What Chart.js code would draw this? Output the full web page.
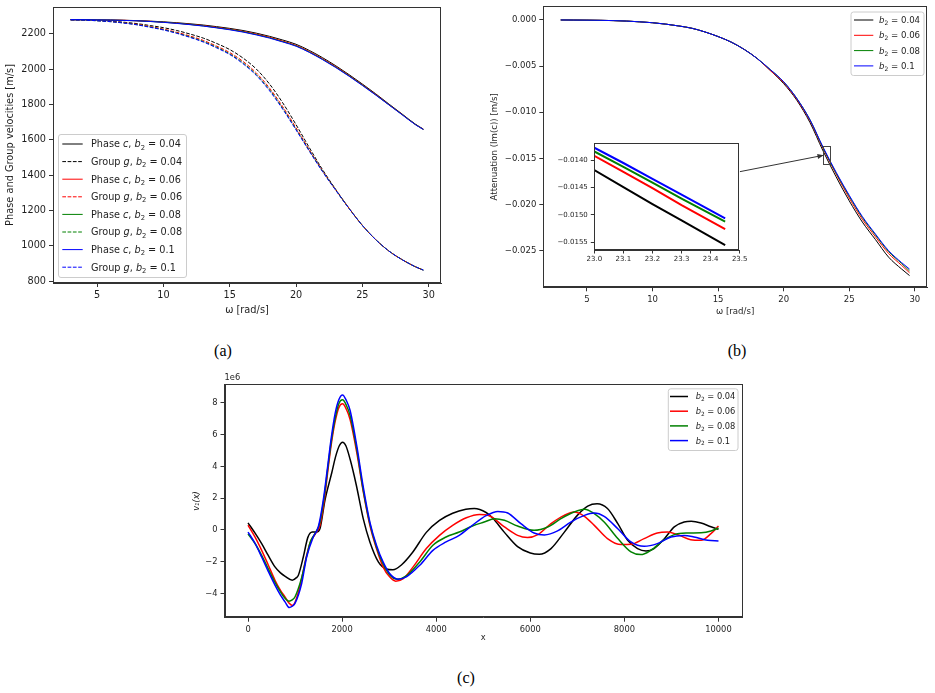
<!DOCTYPE html>
<html><head><meta charset="utf-8">
<script src="https://cdn.jsdelivr.net/npm/chart.js@4.4.1/dist/chart.umd.min.js"></script>
<style>
html,body{margin:0;padding:0;background:#fff;}
#wrap{position:relative;width:935px;height:693px;overflow:hidden;background:#fff;}
canvas{position:absolute;}
.cap{position:absolute;font-family:"Liberation Serif","DejaVu Serif",serif;font-size:16px;color:#000;transform:translate(-50%,-50%);white-space:nowrap;}
</style></head><body>
<div id="wrap">
<canvas id="ca" width="460" height="330" style="left:0px;top:0px"></canvas>
<canvas id="cb" width="455" height="330" style="left:480px;top:0px"></canvas>
<canvas id="ci" width="210" height="130" style="left:546px;top:138px"></canvas>
<canvas id="cc" width="580" height="285" style="left:180px;top:365px"></canvas>
<div class="cap" style="left:223px;top:351px">(a)</div>
<div class="cap" style="left:737px;top:351px">(b)</div>
<div class="cap" style="left:466px;top:678px">(c)</div>
</div>
<script>
// ---------------- DATA ----------------
const b2Values = ['0.04', '0.06', '0.08', '0.1'];

// tick values
const omegaTicks = [5, 10, 15, 20, 25, 30];
const velTicks = [800, 1000, 1200, 1400, 1600, 1800, 2000, 2200];
const attTicks = [-0.025, -0.020, -0.015, -0.010, -0.005, 0];
const insetOmegaTicks = [23.0, 23.1, 23.2, 23.3, 23.4, 23.5];
const insetAttTicks = [-0.0155, -0.0150, -0.0145, -0.0140];
const xTicksC = [0, 2000, 4000, 6000, 8000, 10000];
const vTicksC = [-4, -2, 0, 2, 4, 6, 8];

// (a) phase and group velocities vs omega [rad/s]
const omega = [3,4,5,6,7,8,9,10,11,12,13,14,15,16,17,18,19,20,21,22,23,24,25,26,27,28,29,29.6];
const phaseC004 = [2279,2279,2278,2277,2276,2274,2271,2267,2262,2256,2249,2240,2230,2218,2203,2185,2164,2140,2105,2064,2018,1968,1915,1860,1802,1745,1688,1660];
const phaseC006 = [2279,2279,2278,2277,2276,2273,2270,2265,2260,2253,2246,2236,2226,2213,2198,2180,2158,2134,2099,2058,2013,1963,1911,1856,1799,1743,1686,1659];
const phaseC008 = [2279,2279,2278,2277,2275,2273,2269,2265,2259,2252,2244,2234,2224,2211,2195,2177,2155,2131,2096,2055,2010,1961,1909,1854,1798,1742,1686,1658];
const phaseC010 = [2279,2279,2278,2277,2275,2273,2269,2264,2258,2251,2243,2233,2222,2209,2193,2175,2153,2129,2094,2053,2008,1959,1907,1853,1797,1741,1685,1658];
const groupG004 = [2279,2278,2275,2271,2265,2257,2246,2234,2218,2198,2175,2145,2110,2062,2000,1915,1808,1685,1555,1430,1318,1212,1115,1035,970,921,881,862];
const groupG006 = [2279,2277,2274,2269,2262,2253,2240,2226,2208,2187,2162,2130,2093,2043,1978,1892,1786,1667,1543,1423,1315,1211,1115,1035,970,921,881,862];
const groupG008 = [2279,2277,2273,2268,2261,2251,2238,2223,2204,2182,2156,2124,2086,2035,1969,1883,1777,1659,1538,1421,1314,1210,1115,1035,970,921,881,862];
const groupG010 = [2279,2277,2273,2268,2260,2250,2236,2221,2202,2179,2153,2120,2082,2030,1964,1877,1772,1655,1535,1419,1313,1210,1115,1035,970,921,881,862];

// (b) attenuation Im(c) vs omega
const att004 = [0,-0.00001,-0.00002,-0.00004,-0.00007,-0.00012,-0.0002,-0.0003,-0.00045,-0.00065,-0.0009,-0.0013,-0.0018,-0.0024,-0.0032,-0.0042,-0.0055,-0.0069,-0.0087,-0.0111,-0.01418,-0.0170,-0.0196,-0.0219,-0.0238,-0.0257,-0.0270,-0.0277];
const att006 = [0,-0.00001,-0.00002,-0.00004,-0.00007,-0.00012,-0.0002,-0.0003,-0.00045,-0.00065,-0.0009,-0.0013,-0.0018,-0.0024,-0.0032,-0.0042,-0.0055,-0.0068,-0.0086,-0.0109,-0.01392,-0.0167,-0.0193,-0.0216,-0.0235,-0.0253,-0.0266,-0.0274];
const att008 = [0,-0.00001,-0.00002,-0.00004,-0.00007,-0.00012,-0.0002,-0.0003,-0.00045,-0.00065,-0.0009,-0.0013,-0.0018,-0.0024,-0.0032,-0.0042,-0.0054,-0.0067,-0.0085,-0.0108,-0.01384,-0.0166,-0.0191,-0.0214,-0.0233,-0.0251,-0.0264,-0.0272];
const att010 = [0,-0.00001,-0.00002,-0.00004,-0.00007,-0.00012,-0.0002,-0.0003,-0.00045,-0.00065,-0.0009,-0.0013,-0.0018,-0.0024,-0.0032,-0.0042,-0.0054,-0.0067,-0.0085,-0.0108,-0.01377,-0.0165,-0.0190,-0.0213,-0.0232,-0.0250,-0.0263,-0.0270];

// (b) inset zoom
const insetOmega = [23.0, 23.1, 23.2, 23.3, 23.45];
const insetAtt004 = [-0.01418,-0.01449,-0.01480,-0.01510,-0.01555];
const insetAtt006 = [-0.01392,-0.01421,-0.01451,-0.01482,-0.01526];
const insetAtt008 = [-0.01384,-0.01412,-0.01441,-0.01470,-0.01512];
const insetAtt010 = [-0.01377,-0.01405,-0.01434,-0.01463,-0.01506];

// (c) v1(x), values in units of 1e6
const xV004 = [0,150,290,430,573,690,790,940,1030,1070,1175,1270,1366,1458,1530,1635,1780,1860,1940,2010,2080,2170,2300,2450,2590,2770,2940,3080,3260,3500,3790,4070,4350,4630,4810,5060,5200,5450,5730,6000,6190,6440,6720,7000,7220,7420,7640,7860,8070,8280,8460,8630,8850,9060,9270,9420,9630,9840,10000];
const v004 = [0.45,-0.2,-0.86,-1.6,-2.32,-2.7,-2.92,-3.16,-3.0,-2.85,-1.7,-0.48,-0.13,-0.13,0.09,1.87,3.6,4.6,5.3,5.53,5.3,4.45,2.85,0.7,-0.75,-2.0,-2.45,-2.5,-2.2,-1.4,-0.15,0.6,1.05,1.3,1.35,1.1,0.75,-0.15,-1.05,-1.45,-1.53,-1.17,-0.15,0.92,1.5,1.65,1.35,0.4,-0.65,-1.17,-1.32,-1.17,-0.55,0.2,0.5,0.55,0.44,0.2,0.04];
const xV006 = [0,150,290,430,573,690,786,870,941,1000,1118,1230,1320,1440,1530,1621,1700,1770,1850,1930,2010,2090,2170,2310,2450,2590,2730,2870,3010,3140,3300,3510,3790,4070,4350,4640,4920,5130,5450,5730,5940,6160,6440,6720,6930,7150,7360,7640,7930,8140,8420,8700,8920,9130,9410,9630,9840,10000];
const v006 = [0.3,-0.45,-1.28,-2.2,-3.16,-3.8,-4.21,-4.6,-4.75,-4.55,-3.37,-1.8,-0.8,-0.2,0.3,1.87,3.8,5.4,6.8,7.7,7.94,7.6,6.95,4.9,2.4,0.29,-1.17,-2.32,-2.95,-3.22,-3.06,-2.32,-1.17,-0.34,0.29,0.77,0.98,0.9,0.19,-0.34,-0.48,-0.29,0.4,0.92,1.13,0.86,0.29,-0.54,-0.92,-0.9,-0.54,-0.19,-0.13,-0.29,-0.61,-0.65,-0.23,0.25];
const xV008 = [0,150,290,430,573,690,786,870,940,1000,1140,1250,1330,1430,1530,1620,1700,1770,1850,1930,2010,2090,2170,2310,2450,2590,2730,2870,3010,3175,3365,3650,3930,4210,4490,4770,5020,5240,5450,5730,6080,6370,6650,6930,7150,7360,7570,7860,8140,8350,8560,8850,9060,9340,9630,9840,10000];
const v008 = [-0.25,-0.85,-1.6,-2.45,-3.3,-3.9,-4.3,-4.48,-4.4,-4.2,-3.0,-1.6,-0.7,-0.2,0.5,2.1,4.0,5.6,7.0,7.95,8.19,7.85,7.2,5.1,2.49,0.40,-1.07,-2.12,-2.81,-3.1,-2.89,-2.01,-0.96,-0.44,-0.13,0.25,0.5,0.71,0.61,0.25,-0.02,0.19,0.71,1.13,1.30,1.03,0.50,-0.54,-1.38,-1.55,-1.28,-0.61,-0.29,-0.19,-0.17,-0.06,0.13];
const xV010 = [0,150,290,430,573,690,786,877,940,998,1140,1246,1387,1493,1599,1680,1760,1850,1930,2010,2090,2170,2310,2450,2590,2730,2870,3010,3190,3365,3650,3930,4210,4490,4770,5060,5310,5520,5800,6080,6300,6580,6860,7150,7360,7570,7860,8140,8420,8700,8990,9270,9480,9770,10000];
const v010 = [-0.13,-0.85,-1.7,-2.6,-3.47,-4.1,-4.52,-4.88,-4.8,-4.62,-3.37,-1.7,-0.44,0.19,1.87,3.7,5.6,7.31,8.2,8.5,8.15,7.52,5.32,2.70,0.50,-0.96,-2.01,-2.74,-3.1,-2.95,-2.22,-1.28,-0.75,-0.34,0.3,0.9,1.17,1.07,0.40,-0.19,-0.31,-0.06,0.50,0.92,1.07,0.86,0.08,-0.75,-1.03,-0.86,-0.44,-0.34,-0.44,-0.65,-0.69];

// ---------------- STYLE ----------------
const FONT = '"DejaVu Sans", Verdana, sans-serif';
const SPINE = '#333333';
const TXT = '#1e1e1e';
const COLORS = ['#000000', '#ff0000', '#008000', '#0000ff'];

function pts(xs, ys) { return xs.map((x, i) => ({x: x, y: ys[i]})); }

function richText(ctx, x, y, segs, size, color) {
  let cx = x;
  ctx.fillStyle = color; ctx.textBaseline = 'alphabetic'; ctx.textAlign = 'left';
  for (const [t, k] of segs) {
    let fs = size, dy = 0, st = '';
    if (k === 'i') st = 'italic ';
    if (k === 's') { fs = size * 0.7; dy = size * 0.22; }
    ctx.font = st + fs + 'px ' + FONT;
    ctx.fillText(t, cx, y + dy);
    cx += ctx.measureText(t).width;
  }
}
function roundBox(ctx, x0, y0, x1, y1, r) {
  ctx.beginPath();
  ctx.moveTo(x0 + r, y0); ctx.lineTo(x1 - r, y0); ctx.quadraticCurveTo(x1, y0, x1, y0 + r);
  ctx.lineTo(x1, y1 - r); ctx.quadraticCurveTo(x1, y1, x1 - r, y1);
  ctx.lineTo(x0 + r, y1); ctx.quadraticCurveTo(x0, y1, x0, y1 - r);
  ctx.lineTo(x0, y0 + r); ctx.quadraticCurveTo(x0, y0, x0 + r, y0); ctx.closePath();
}
function legendPlugin(L) {
  return { id: 'customLegend', afterDraw(chart) {
    const ctx = chart.ctx; ctx.save();
    roundBox(ctx, L.box[0] + 0.5, L.box[1] + 0.5, L.box[2] + 0.5, L.box[3] + 0.5, 2.5);
    ctx.fillStyle = 'rgba(255,255,255,0.8)'; ctx.fill();
    ctx.strokeStyle = '#cccccc'; ctx.lineWidth = 1; ctx.stroke();
    L.items.forEach((it, i) => {
      const cy = L.y0 + i * L.dy;
      ctx.strokeStyle = it.color; ctx.lineWidth = it.lw; ctx.setLineDash(it.dash || []);
      ctx.beginPath(); ctx.moveTo(L.hx0, cy); ctx.lineTo(L.hx1, cy); ctx.stroke();
      ctx.setLineDash([]);
      richText(ctx, L.tx, cy + L.fs * 0.36, it.segs, L.fs, TXT);
    });
    ctx.restore();
  }};
}
const spinePlugin = { id: 'spines', afterDatasetsDraw(chart) {
  const a = chart.chartArea, ctx = chart.ctx; ctx.save();
  ctx.strokeStyle = SPINE; ctx.lineWidth = 1;
  ctx.strokeRect(Math.round(a.left) + 0.5, Math.round(a.top) + 0.5, Math.round(a.right - a.left) - 1, Math.round(a.bottom - a.top) - 1);
  ctx.restore();
}};
function scaleOpts(o) {
  const left = o.pos === 'left';
  return {
    type: 'linear', position: o.pos, min: o.min, max: o.max,
    border: {display: true, color: SPINE, width: 1},
    grid: {display: true, drawOnChartArea: false, drawTicks: true, tickLength: o.tl || 4, tickColor: SPINE, tickWidth: 1},
    ticks: {autoSkip: false, maxRotation: 0, minRotation: 0,
            padding: o.tp === undefined ? 3 : o.tp, color: TXT, font: {family: FONT, size: o.fs}, callback: o.fmt},
    title: {display: !!o.title, text: o.title || '', color: TXT,
            font: {family: FONT, size: o.tfs || o.fs, style: o.tstyle || 'normal', lineHeight: 1.2},
            padding: left ? {top: o.tpad, bottom: 0} : {top: 0, bottom: o.tpad}},
    afterBuildTicks(s) { s.ticks = o.ticks.map(v => ({value: v})); },
    afterFit(s) {
      if (left) { s.width = o.fixed; s.paddingTop = 0; s.paddingBottom = 0; }
      else { s.height = o.fixed; s.paddingLeft = 0; s.paddingRight = 0; }
    }
  };
}
function baseOpts(pad, scales) {
  return { responsive: false, animation: false, devicePixelRatio: 1, events: [],
    layout: {padding: {top: pad.top, right: pad.right, left: 0, bottom: 0}},
    plugins: {legend: {display: false}, tooltip: {enabled: false}},
    scales: scales };
}
const minusFmt = d => v => (v < 0 ? '\u2212' : '') + Math.abs(v).toFixed(d);
const b2Segs = (pre, v) => pre.concat([['b', 'i'], ['2', 's'], [' = ' + v, 'n']]);

// ---------------- (a) ----------------
const phaseSets = [phaseC004, phaseC006, phaseC008, phaseC010];
const groupSets = [groupG004, groupG006, groupG008, groupG010];
const dsA = [];
for (let i = 0; i < 4; i++) {
  dsA.push({label: 'Phase c, b\u2082 = ' + b2Values[i], data: pts(omega, phaseSets[i]), borderColor: COLORS[i], borderWidth: 1, pointRadius: 0, cubicInterpolationMode: 'monotone', fill: false});
  dsA.push({label: 'Group g, b\u2082 = ' + b2Values[i], data: pts(omega, groupSets[i]), borderColor: COLORS[i], borderWidth: 1, borderDash: [3.7, 1.6], pointRadius: 0, cubicInterpolationMode: 'monotone', fill: false});
}
dsA.forEach((d, i) => d.order = dsA.length - i);
const legA = {box: [58, 134, 186, 277], y0: 144, dy: 17.6, hx0: 62.3, hx1: 82.7, tx: 91, fs: 9.7,
  items: dsA.map((d, i) => ({color: d.borderColor, lw: 1, dash: d.borderDash,
    segs: b2Segs(i % 2 === 0 ? [['Phase ', 'n'], ['c', 'i'], [', ', 'n']] : [['Group ', 'n'], ['g', 'i'], [', ', 'n']], b2Values[i >> 1])}))};
new Chart(document.getElementById('ca'), {
  type: 'line', data: {datasets: dsA},
  options: baseOpts({top: 7, right: 19}, {
    x: scaleOpts({pos: 'bottom', min: 1.67, max: 30.93, ticks: omegaTicks, fs: 9.7, tfs: 9.8, fmt: v => v.toFixed(0), title: '\u03c9 [rad/s]', tpad: 14.1, fixed: 47}),
    y: scaleOpts({pos: 'left', min: 789, max: 2351, ticks: velTicks, fs: 9.7, tfs: 9.8, fmt: v => v.toFixed(0), title: 'Phase and Group velocities [m/s]', tpad: 4.8, fixed: 53})
  }),
  plugins: [spinePlugin, legendPlugin(legA)]
});

// ---------------- (b) ----------------
const attSets = [att004, att006, att008, att010];
const dsB = attSets.map((s, i) => ({label: 'b\u2082 = ' + b2Values[i], data: pts(omega, s), borderColor: COLORS[i], borderWidth: 1, pointRadius: 0, cubicInterpolationMode: 'monotone', fill: false, order: 4 - i}));
const INSET_X = [23.0, 23.5], INSET_Y = [-0.01564, -0.01369];
const insetLinkPlugin = { id: 'insetLink', afterDatasetsDraw(chart) {
  const ctx = chart.ctx, xs = chart.scales.x, ys = chart.scales.y;
  const x0 = xs.getPixelForValue(INSET_X[0]), x1 = xs.getPixelForValue(INSET_X[1]);
  const y0 = ys.getPixelForValue(INSET_Y[1]), y1 = ys.getPixelForValue(INSET_Y[0]);
  ctx.save(); ctx.strokeStyle = '#444'; ctx.lineWidth = 1;
  ctx.strokeRect(Math.round(x0) + 0.5, Math.round(y0) + 0.5, Math.round(x1 - x0), Math.round(y1 - y0));
  const sx = 259.7, sy = 171.7, ex = Math.round(x0) + 0.5, ey = (y0 + y1) / 2;
  ctx.strokeStyle = '#333'; ctx.beginPath(); ctx.moveTo(sx, sy); ctx.lineTo(ex, ey); ctx.stroke();
  const ang = Math.atan2(ey - sy, ex - sx), L = 6, W = 2.5;
  ctx.fillStyle = '#333'; ctx.beginPath(); ctx.moveTo(ex, ey);
  ctx.lineTo(ex - L * Math.cos(ang) + W * Math.sin(ang), ey - L * Math.sin(ang) - W * Math.cos(ang));
  ctx.lineTo(ex - L * Math.cos(ang) - W * Math.sin(ang), ey - L * Math.sin(ang) + W * Math.cos(ang));
  ctx.closePath(); ctx.fill();
  ctx.restore();
}};
const legB = {box: [370.5, 11.5, 443.5, 75], y0: 20, dy: 15.3, hx0: 374, hx1: 393.3, tx: 399, fs: 8.6,
  items: dsB.map((d, i) => ({color: d.borderColor, lw: 1, segs: b2Segs([], b2Values[i])}))};
new Chart(document.getElementById('cb'), {
  type: 'line', data: {datasets: dsB},
  options: baseOpts({top: 6.3, right: 8}, {
    x: scaleOpts({pos: 'bottom', min: 1.67, max: 30.93, ticks: omegaTicks, fs: 8.5, tfs: 8.6, fmt: v => v.toFixed(0), title: '\u03c9 [rad/s]', tpad: 13.1, fixed: 42.7}),
    y: scaleOpts({pos: 'left', min: -0.02897, max: 0.00148, ticks: attTicks, fs: 8.5, tfs: 8.6, fmt: minusFmt(3), title: 'Attenuation (Im(c)) [m/s]', tpad: 9.8, fixed: 63.3})
  }),
  plugins: [spinePlugin, insetLinkPlugin, legendPlugin(legB)]
});

// ---------------- (b) inset ----------------
const insetSets = [insetAtt004, insetAtt006, insetAtt008, insetAtt010];
const dsI = insetSets.map((s, i) => ({label: 'b\u2082 = ' + b2Values[i], data: pts(insetOmega, s), borderColor: COLORS[i], borderWidth: 2, pointRadius: 0, tension: 0, fill: false, order: 4 - i}));
const whiteBg = { id: 'whiteBg', beforeDatasetsDraw(chart) {
  const a = chart.chartArea; chart.ctx.save(); chart.ctx.fillStyle = '#fff';
  chart.ctx.fillRect(a.left, a.top, a.right - a.left, a.bottom - a.top); chart.ctx.restore();
}};
new Chart(document.getElementById('ci'), {
  type: 'line', data: {datasets: dsI},
  options: baseOpts({top: 5.3, right: 16.3}, {
    x: scaleOpts({pos: 'bottom', min: INSET_X[0], max: INSET_X[1], ticks: insetOmegaTicks, fs: 7, tl: 3.5, tp: 1.5, fmt: v => v.toFixed(1), fixed: 18}),
    y: scaleOpts({pos: 'left', min: INSET_Y[0], max: INSET_Y[1], ticks: insetAttTicks, fs: 7, tl: 3.5, tp: 3, fmt: minusFmt(4), fixed: 48.3})
  }),
  plugins: [whiteBg, spinePlugin]
});

// ---------------- (c) ----------------
const cX = [xV004, xV006, xV008, xV010], cV = [v004, v006, v008, v010];
const dsC = cV.map((s, i) => ({label: 'b\u2082 = ' + b2Values[i], data: pts(cX[i], s), borderColor: COLORS[i], borderWidth: 1.5, pointRadius: 0, cubicInterpolationMode: 'monotone', fill: false, order: 4 - i}));
const offsetText = { id: 'offsetText', afterDraw(chart) {
  const ctx = chart.ctx; ctx.save(); ctx.fillStyle = TXT; ctx.font = '8.3px ' + FONT;
  ctx.textAlign = 'left'; ctx.textBaseline = 'bottom';
  ctx.fillText('1e6', chart.chartArea.left, chart.chartArea.top - 2); ctx.restore();
}};
const legC = {box: [487.8, 23.3, 557.5, 85], y0: 31.5, dy: 14.7, hx0: 490, hx1: 508, tx: 515.7, fs: 8.3,
  items: dsC.map((d, i) => ({color: d.borderColor, lw: 1.5, segs: b2Segs([], b2Values[i])}))};
new Chart(document.getElementById('cc'), {
  type: 'line', data: {datasets: dsC},
  options: baseOpts({top: 19.3, right: 18}, {
    x: scaleOpts({pos: 'bottom', min: -500, max: 10500, ticks: xTicksC, fs: 8.3, fmt: v => v.toFixed(0), title: 'x', tpad: 6.7, fixed: 32.3}),
    y: scaleOpts({pos: 'left', min: -5.52, max: 9.17, ticks: vTicksC, fs: 8.3, fmt: minusFmt(0), title: 'v\u2081(x)', tstyle: 'italic', tpad: 12, fixed: 44.5})
  }),
  plugins: [spinePlugin, offsetText, legendPlugin(legC)]
});
</script>
</body></html>
